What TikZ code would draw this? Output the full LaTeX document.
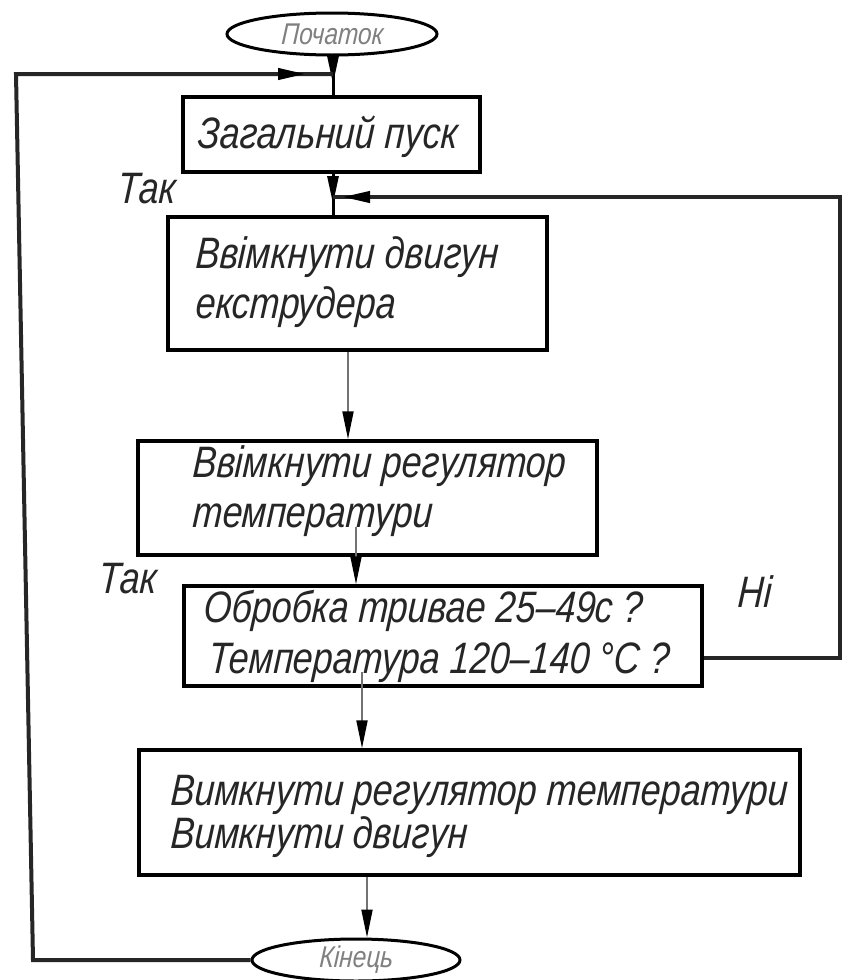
\documentclass[tikz,border=0pt]{standalone}
\usepackage{fontspec}
\newfontfamily\gost[FakeStretch=0.815,FakeSlant=0.06]{Liberation Sans}
\usetikzlibrary{arrows.meta,shapes.geometric}
\begin{document}
\begin{tikzpicture}[x=1pt,y=-1pt,
  lbl/.style={font=\gost\itshape\fontsize{44}{44}\selectfont, text=black!85, inner sep=0pt, anchor=base west},
  term/.style={ellipse, draw=black, line width=3pt, inner sep=0pt, fill=white,
    font=\gost\itshape\fontsize{30}{30}\selectfont, text=black!50},
  box/.style={rectangle, draw=black, line width=3.5pt, inner sep=0pt},
  loopline/.style={line width=4pt, draw=black!85},
  flow/.style={line width=2pt, draw=black!55},
  mainflow/.style={line width=3pt, draw=black},
  tipk/.style={-{Triangle[length=28pt 0,width=11pt 0,color=black]}}]

\useasboundingbox (0,0) rectangle (843,980);
\fill[white] (0,0) rectangle (843,980);

% terminals
\node[term, minimum width=210pt, minimum height=42pt] (start) at (332,34) {Початок};
\node[term, minimum width=208pt, minimum height=42pt] (end) at (356,960) {Кінець};

% process boxes
\node[box, minimum width=297pt, minimum height=75pt]  (gen)   at (331.5,134.5) {};
\node[box, minimum width=379pt, minimum height=133pt] (motor) at (357.5,283.5) {};
\node[box, minimum width=459pt, minimum height=114pt] (reg)   at (367.5,498) {};
\node[box, minimum width=518pt, minimum height=100pt] (obr)   at (443,636) {};
\node[box, minimum width=661pt, minimum height=125pt] (off)   at (469.5,812.5) {};

% box texts
\node[lbl] (g1) at (197,148) {Загальний пуск};
\node[lbl] (m1) at (195,268) {Ввімкнути двигун};
\node[lbl] (m2) at (195,318) {екструдера};
\node[lbl] (r1) at (192,477) {Ввімкнути регулятор};
\node[lbl] (r2) at (192,527) {температури};
\node[lbl] (o1) at (203,622) {Обробка тривае 25–49с ?};
\node[lbl] (o2) at (208,673) {Температура 120–140 °C ?};
\node[lbl] (f1) at (170,805) {Вимкнути регулятор температури};
\node[lbl] (f2) at (170,848) {Вимкнути двигун};

% branch labels
\node[lbl] (yes1) at (117,203) {Так};
\node[lbl] (yes2) at (98,593) {Так};
\node[lbl] (no)   at (737,607) {Ні};

% helper points
\coordinate (xa) at (333,0);
\coordinate (ja) at (333,74);
\coordinate (jb) at (333,197);
\coordinate (ta) at (333,84);
\coordinate (tb) at (333,204);
\coordinate (xc) at (348,0);
\coordinate (xd) at (356,527);
\coordinate (xe) at (362,672);
\coordinate (xf) at (367,0);

% main flow
\draw[mainflow] (start.south -| xa) -- (gen.north -| xa);
\draw[mainflow, tipk] (start.south -| xa) -- (ta);
\draw[mainflow] (gen.south -| xa) -- (motor.north -| xa);
\draw[mainflow, tipk] (gen.south -| xa) -- (tb);
\draw[flow, tipk] (motor.south -| xc) -- (reg.north -| xc);
\draw[flow, tipk] (xd) -- (obr.north -| xd);
\draw[flow, tipk] (xe) -- (off.north -| xe);
\draw[flow, tipk] (off.south -| xf) -- (end.north -| xf);

% return from the end to the start
\coordinate (lb) at (33,960);
\coordinate (lt) at (16,74);
\coordinate (la) at (306,74);
\draw[loopline] (end.west) -- (lb) -- (lt) -- (ja);
\draw[loopline, tipk] (lt) -- (la);

% "no" branch back to the extruder motor
\coordinate (rb) at (840,658);
\coordinate (rt) at (840,197);
\coordinate (rj) at (342,197);
\draw[loopline] (obr.east |- rb) -- (rb) -- (rt) -- (jb);
\draw[loopline, tipk] (rt) -- (rj);
\end{tikzpicture}
\end{document}
